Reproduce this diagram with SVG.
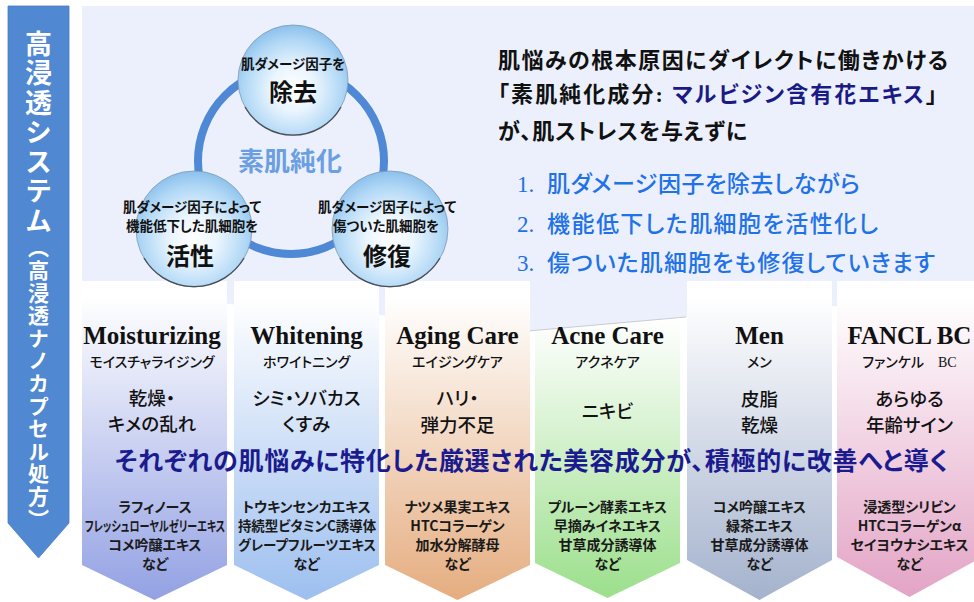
<svg xmlns="http://www.w3.org/2000/svg" width="974" height="602" viewBox="0 0 974 602">
<defs>
<style>
.jp{font-family:"Noto Sans CJK JP","Noto Sans",sans-serif;font-feature-settings:"palt";}
.ser{font-family:"Liberation Serif","Times New Roman",serif;}
.title{font-family:"Liberation Serif","Times New Roman",serif;font-weight:700;font-size:25px;text-anchor:middle;fill:#111;}
.sub{font-family:"Noto Sans CJK JP",sans-serif;font-feature-settings:"palt";font-size:14px;font-weight:500;text-anchor:middle;fill:#111;}
.issue{font-family:"Noto Sans CJK JP",sans-serif;font-feature-settings:"palt";font-size:18.5px;font-weight:500;text-anchor:middle;fill:#111;}
.ing{font-family:"Noto Sans CJK JP",sans-serif;font-feature-settings:"palt";font-size:14px;font-weight:700;text-anchor:middle;fill:#1a1a1a;}
.ctext{font-family:"Noto Sans CJK JP",sans-serif;font-feature-settings:"palt";font-size:13.5px;font-weight:700;text-anchor:middle;fill:#111;}
.cbig{font-family:"Noto Sans CJK JP",sans-serif;font-size:24px;font-weight:700;text-anchor:middle;fill:#111;}
.head{font-family:"Noto Sans CJK JP",sans-serif;font-feature-settings:"palt";font-size:22px;font-weight:700;fill:#111;}
.list{font-family:"Noto Sans CJK JP",sans-serif;font-feature-settings:"palt";font-size:23px;font-weight:500;fill:#2171e8;}
.num{font-family:"Liberation Serif","Times New Roman",serif;font-size:23px;fill:#2171e8;}
.sphere{fill:url(#sph);stroke:#7d9ab5;stroke-width:0.8;}
.rim{fill:none;stroke:#4a4f55;stroke-width:1.4;}
</style>
<radialGradient id="sph" cx="50%" cy="58%" r="58%">
<stop offset="0" stop-color="#ffffff"/>
<stop offset="0.35" stop-color="#eaf5fe"/>
<stop offset="0.75" stop-color="#b3d9f6"/>
<stop offset="1" stop-color="#8cc0ec"/>
</radialGradient>
<linearGradient id="g1" x1="0" y1="281" x2="0" y2="600" gradientUnits="userSpaceOnUse"><stop offset="0.05" stop-color="#ffffff"/><stop offset="1" stop-color="#93a1e3"/></linearGradient>
<linearGradient id="g2" x1="0" y1="281" x2="0" y2="600" gradientUnits="userSpaceOnUse"><stop offset="0.05" stop-color="#ffffff"/><stop offset="1" stop-color="#9dbfef"/></linearGradient>
<linearGradient id="g3" x1="0" y1="281" x2="0" y2="600" gradientUnits="userSpaceOnUse"><stop offset="0.05" stop-color="#ffffff"/><stop offset="1" stop-color="#e5ad80"/></linearGradient>
<linearGradient id="g4" x1="0" y1="281" x2="0" y2="600" gradientUnits="userSpaceOnUse"><stop offset="0.12" stop-color="#ffffff"/><stop offset="1" stop-color="#9bdf8b"/></linearGradient>
<linearGradient id="g5" x1="0" y1="281" x2="0" y2="600" gradientUnits="userSpaceOnUse"><stop offset="0.05" stop-color="#ffffff"/><stop offset="1" stop-color="#a4b2cd"/></linearGradient>
<linearGradient id="g6" x1="0" y1="281" x2="0" y2="600" gradientUnits="userSpaceOnUse"><stop offset="0.05" stop-color="#ffffff"/><stop offset="1" stop-color="#e3a3c5"/></linearGradient>
</defs>
<rect x="0" y="0" width="974" height="602" fill="#ffffff"/>

<g id="banner">
<path d="M8 6 H69 V523 L38.5 558 L8 523 Z" fill="#5088d2" stroke="#4a7fc4" stroke-width="0.8"/>
<text x="38.5" y="30" class="jp" style="writing-mode:vertical-rl" fill="#ffffff" font-weight="700"><tspan font-size="27" letter-spacing="2.5">高浸透システム</tspan><tspan font-size="21" letter-spacing="1.6">（高浸透ナノカプセル処方）</tspan></text>
</g>

<g id="col-acne">
<path d="M535 281 H680 V563 L607.5 598 L535 563 Z" fill="url(#g4)"/>
</g>

<g id="panel">
<polygon points="82,6 974,6 974,306 832,306 686,317 528,331 380,315 229,304 82,300" fill="#ebf0fc"/>
<line x1="528" y1="331" x2="686" y2="317" stroke="#c9ccd6" stroke-width="1"/>
</g>

<g id="col-moisturizing">
<path d="M82 281 H227 V565 L154.5 600 L82 565 Z" fill="url(#g1)"/>
<text class="title" x="152" y="344">Moisturizing</text>
<text class="sub" x="152" y="367">モイスチャライジング</text>
<text class="issue" x="152" y="405">乾燥・</text>
<text class="issue" x="152" y="431">キメの乱れ</text>
<text class="ing" x="155" y="512">ラフィノース</text>
<text class="ing" transform="translate(155 531) scale(0.72 1)">フレッシュローヤルゼリーエキス</text>
<text class="ing" x="155" y="550">コメ吟醸エキス</text>
<text class="ing" x="155" y="569">など</text>
</g>

<g id="col-whitening">
<path d="M234 281 H379 V565 L306.5 600 L234 565 Z" fill="url(#g2)"/>
<text class="title" x="306.5" y="344">Whitening</text>
<text class="sub" x="306.5" y="367">ホワイトニング</text>
<text class="issue" x="306.5" y="405">シミ・ソバカス</text>
<text class="issue" x="306.5" y="431">くすみ</text>
<text class="ing" x="306.5" y="512">トウキンセンカエキス</text>
<text class="ing" transform="translate(307 531) scale(0.96 1)">持続型ビタミンC誘導体</text>
<text class="ing" transform="translate(307 550) scale(0.96 1)">グレープフルーツエキス</text>
<text class="ing" x="306.5" y="569">など</text>
</g>

<g id="col-aging">
<path d="M385 281 H530 V565 L457.5 600 L385 565 Z" fill="url(#g3)"/>
<text class="title" x="457.5" y="344">Aging Care</text>
<text class="sub" x="457.5" y="367">エイジングケア</text>
<text class="issue" x="457.5" y="405">ハリ・</text>
<text class="issue" x="457.5" y="432">弾力不足</text>
<text class="ing" x="457.5" y="512">ナツメ果実エキス</text>
<text class="ing" x="457.5" y="531">HTCコラーゲン</text>
<text class="ing" x="457.5" y="550">加水分解酵母</text>
<text class="ing" x="457.5" y="569">など</text>
</g>

<g id="col-acne-text">
<text class="title" x="607.5" y="344">Acne Care</text>
<text class="sub" x="607.5" y="367">アクネケア</text>
<text class="issue" x="607.5" y="418">ニキビ</text>
<text class="ing" x="607.5" y="512">プルーン酵素エキス</text>
<text class="ing" x="607.5" y="531">早摘みイネエキス</text>
<text class="ing" x="607.5" y="550">甘草成分誘導体</text>
<text class="ing" x="607.5" y="569">など</text>
</g>

<g id="col-men">
<path d="M687 281 H832 V560 L759.5 600 L687 560 Z" fill="url(#g5)"/>
<text class="title" x="759.5" y="344">Men</text>
<text class="sub" x="759.5" y="367">メン</text>
<text class="issue" x="759.5" y="406">皮脂</text>
<text class="issue" x="759.5" y="432">乾燥</text>
<text class="ing" x="759.5" y="512">コメ吟醸エキス</text>
<text class="ing" x="759.5" y="531">緑茶エキス</text>
<text class="ing" x="759.5" y="550">甘草成分誘導体</text>
<text class="ing" x="759.5" y="569">など</text>
</g>

<g id="col-fancl">
<path d="M837 281 H982 V557 L909.5 597 L837 557 Z" fill="url(#g6)"/>
<text class="title" x="909.5" y="344">FANCL BC</text>
<text class="sub" x="909.5" y="367">ファンケル　<tspan class="ser" font-weight="400">BC</tspan></text>
<text class="issue" x="909.5" y="406">あらゆる</text>
<text class="issue" x="909.5" y="432">年齢サイン</text>
<text class="ing" x="909.5" y="512">浸透型シリビン</text>
<text class="ing" x="909.5" y="531">HTCコラーゲンα</text>
<text class="ing" x="909.5" y="550">セイヨウナシエキス</text>
<text class="ing" x="909.5" y="569">など</text>
</g>

<g id="connectors">
<circle cx="291" cy="161" r="93" fill="none" stroke="#4f88d4" stroke-width="8"/>
</g>

<g id="node-remove">
<circle class="sphere" cx="293" cy="80" r="55"/>
<path class="rim" d="M245 107 A55 55 0 0 0 341 107"/>
<text class="ctext" x="293" y="69">肌ダメージ因子を</text>
<text class="cbig" x="293" y="101">除去</text>
</g>

<g id="node-activate">
<circle class="sphere" cx="194" cy="229" r="58"/>
<path class="rim" d="M144 258 A58 58 0 0 0 244 258"/>
<text class="ctext" x="192" y="212">肌ダメージ因子によって</text>
<text class="ctext" x="192" y="231">機能低下した肌細胞を</text>
<text class="cbig" x="190" y="265">活性</text>
</g>

<g id="node-repair">
<circle class="sphere" cx="390" cy="229" r="58"/>
<path class="rim" d="M340 258 A58 58 0 0 0 440 258"/>
<text class="ctext" x="387" y="212">肌ダメージ因子によって</text>
<text class="ctext" x="386" y="231">傷ついた肌細胞を</text>
<text class="cbig" x="387" y="265">修復</text>
</g>

<text class="jp" x="290" y="171" font-size="26" font-weight="700" fill="#6b9fe2" text-anchor="middle">素肌純化</text>

<g id="message">
<text class="head" x="498" y="68" textLength="450">肌悩みの根本原因にダイレクトに働きかける</text>
<text class="head" x="498" y="102" textLength="439">「素肌純化成分<tspan class="ser">: </tspan><tspan fill="#1b1b86">マルビジン含有花エキス</tspan>」</text>
<text class="head" x="498" y="139" textLength="249">が、肌ストレスを与えずに</text>
<text class="num" x="517" y="192">1.</text>
<text class="list" x="547" y="192" textLength="313">肌ダメージ因子を除去しながら</text>
<text class="num" x="517" y="232">2.</text>
<text class="list" x="547" y="232" textLength="331">機能低下した肌細胞を活性化し</text>
<text class="num" x="517" y="271">3.</text>
<text class="list" x="547" y="271" textLength="388">傷ついた肌細胞をも修復していきます</text>
</g>

<text class="jp" x="115" y="470" font-size="25" font-weight="700" fill="#1b1b8f" textLength="833">それぞれの肌悩みに特化した厳選された美容成分が、積極的に改善へと導く</text>
</svg>
